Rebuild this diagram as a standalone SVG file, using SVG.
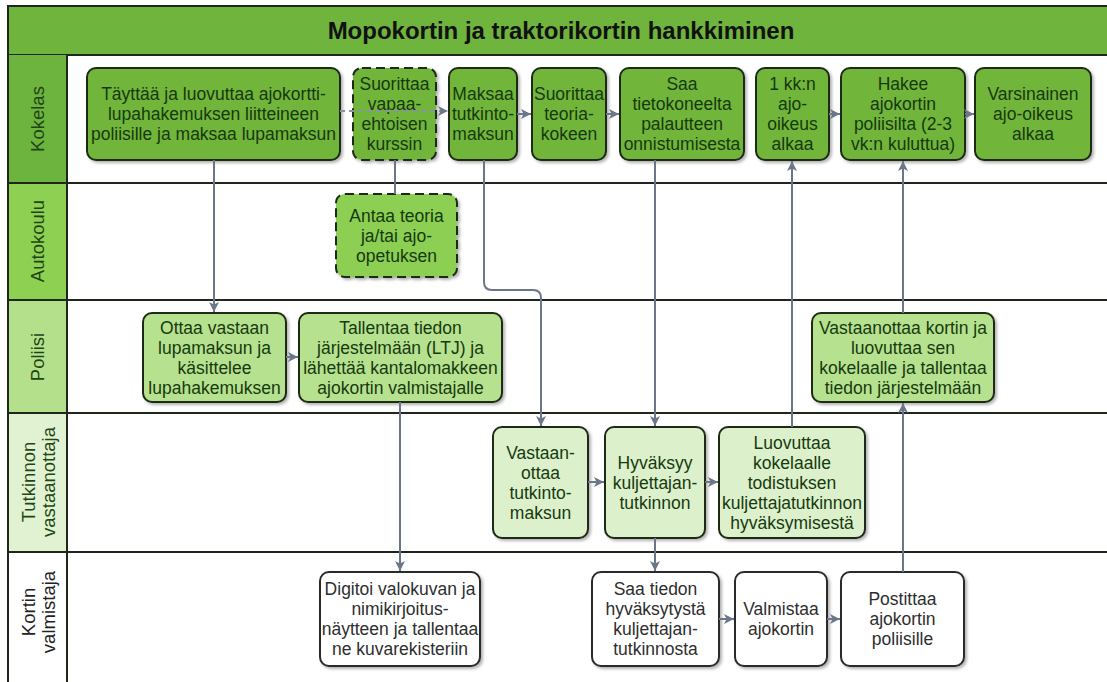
<svg xmlns="http://www.w3.org/2000/svg" width="1107" height="682" viewBox="0 0 1107 682">
  <defs>
    <marker id="arrow" markerUnits="userSpaceOnUse" markerWidth="11" markerHeight="11" refX="10" refY="5" orient="auto">
      <path d="M0,0 L10,5 L0,10 L2.5,5 z" fill="#6b7789"/>
    </marker>
    <filter id="shadow" x="-10%" y="-10%" width="125%" height="125%">
      <feDropShadow dx="2" dy="2" stdDeviation="1.5" flood-color="#000" flood-opacity="0.3"/>
    </filter>
    <style>
      .lane-line { stroke: #1f261c; stroke-width: 2; fill: none; }
      .title-bar { stroke: #1f261c; stroke-width: 2; fill: #6fb43c; }
      .lane-label { font-family: "Liberation Sans", Arial, sans-serif; font-size: 18.5px; text-anchor: middle; fill: #1e4514; }
      .node rect { stroke: #1d2a16; stroke-width: 2; filter: url(#shadow); }
      .node text { font-family: "Liberation Sans", Arial, sans-serif; font-size: 17.5px; text-anchor: middle; fill: #163a0e; }
      .k rect { fill: #72b53b; }
      .a rect { fill: #8ccf52; }
      .p rect { fill: #b6e18f; }
      .t rect { fill: #dcf0cc; }
      .v rect { fill: #ffffff; stroke: #2b2b2b; }
      .v text { fill: #2e2e2e; }
      .dash rect { stroke-dasharray: 9 5; }
      .conn { stroke: #6b7789; stroke-width: 2; fill: none; }
      .conn-dash { stroke: #8a93a3; stroke-width: 2; fill: none; stroke-dasharray: 5 4; }
    </style>
  </defs>

  <rect x="0" y="0" width="1107" height="682" fill="#ffffff"/>

  <!-- Swimlane frame -->
  <g id="lanes">
    <rect x="8" y="6" width="1102" height="49" class="title-bar"/>
    <text x="561" y="39" font-family="'Liberation Sans', Arial, sans-serif" font-size="24" font-weight="bold" text-anchor="middle" fill="#111">Mopokortin ja traktorikortin hankkiminen</text>

    <rect x="8" y="55" width="59" height="128" fill="#6db43f"/>
    <rect x="8" y="183" width="59" height="117" fill="#8dd052"/>
    <rect x="8" y="300" width="59" height="113" fill="#b4e08c"/>
    <rect x="8" y="413" width="59" height="139" fill="#e0f2d2"/>
    <rect x="8" y="552" width="59" height="132" fill="#ffffff"/>

    <line x1="8" y1="55" x2="8" y2="684" class="lane-line"/>
    <line x1="67" y1="55" x2="67" y2="684" class="lane-line"/>
    <line x1="8" y1="183" x2="1110" y2="183" class="lane-line"/>
    <line x1="8" y1="300" x2="1110" y2="300" class="lane-line"/>
    <line x1="8" y1="413" x2="1110" y2="413" class="lane-line"/>
    <line x1="8" y1="552" x2="1110" y2="552" class="lane-line"/>

    <text class="lane-label" transform="translate(44,119) rotate(-90)">Kokelas</text>
    <text class="lane-label" transform="translate(44,241) rotate(-90)">Autokoulu</text>
    <text class="lane-label" transform="translate(44,357) rotate(-90)">Poliisi</text>
    <text class="lane-label" transform="translate(37.5,482) rotate(-90)"><tspan x="0" y="-3">Tutkinnon</tspan><tspan x="0" y="17">vastaanottaja</tspan></text>
    <text class="lane-label" transform="translate(37.5,612) rotate(-90)" style="fill:#222"><tspan x="0" y="-3">Kortin</tspan><tspan x="0" y="17">valmistaja</tspan></text>
  </g>

  <!-- Kokelas -->
  <g id="n-tayttaa" class="node k">
    <rect x="87" y="68" width="253" height="92" rx="9"/>
    <text><tspan x="213.5" y="100">Täyttää ja luovuttaa ajokortti-</tspan><tspan x="213.5" y="120">lupahakemuksen liitteineen</tspan><tspan x="213.5" y="140">poliisille ja maksaa lupamaksun</tspan></text>
  </g>
  <g id="n-kurssi" class="node k dash">
    <rect x="353" y="68" width="83" height="92" rx="9"/>
    <text><tspan x="394.5" y="90">Suorittaa</tspan><tspan x="394.5" y="110">vapaa-</tspan><tspan x="394.5" y="130">ehtoisen</tspan><tspan x="394.5" y="150">kurssin</tspan></text>
  </g>
  <g id="n-maksaa" class="node k">
    <rect x="449" y="68" width="68" height="92" rx="9"/>
    <text><tspan x="483" y="100">Maksaa</tspan><tspan x="483" y="120">tutkinto-</tspan><tspan x="483" y="140">maksun</tspan></text>
  </g>
  <g id="n-teoria" class="node k">
    <rect x="532" y="68" width="74" height="92" rx="9"/>
    <text><tspan x="569" y="100">Suorittaa</tspan><tspan x="569" y="120">teoria-</tspan><tspan x="569" y="140">kokeen</tspan></text>
  </g>
  <g id="n-palaute" class="node k">
    <rect x="620" y="68" width="124" height="92" rx="9"/>
    <text><tspan x="682" y="90">Saa</tspan><tspan x="682" y="110">tietokoneelta</tspan><tspan x="682" y="130">palautteen</tspan><tspan x="682" y="150">onnistumisesta</tspan></text>
  </g>
  <g id="n-kk" class="node k">
    <rect x="756" y="68" width="73" height="92" rx="9"/>
    <text><tspan x="792.5" y="90">1 kk:n</tspan><tspan x="792.5" y="110">ajo-</tspan><tspan x="792.5" y="130">oikeus</tspan><tspan x="792.5" y="150">alkaa</tspan></text>
  </g>
  <g id="n-hakee" class="node k">
    <rect x="841" y="68" width="124" height="92" rx="9"/>
    <text><tspan x="903" y="90">Hakee</tspan><tspan x="903" y="110">ajokortin</tspan><tspan x="903" y="130">poliisilta (2-3</tspan><tspan x="903" y="150">vk:n kuluttua)</tspan></text>
  </g>
  <g id="n-varsinainen" class="node k">
    <rect x="975" y="68" width="116" height="92" rx="9"/>
    <text><tspan x="1033" y="100">Varsinainen</tspan><tspan x="1033" y="120">ajo-oikeus</tspan><tspan x="1033" y="140">alkaa</tspan></text>
  </g>

  <!-- Autokoulu -->
  <g id="n-opetus" class="node a dash">
    <rect x="336" y="194" width="121" height="83" rx="9"/>
    <text><tspan x="396.5" y="221.5">Antaa teoria</tspan><tspan x="396.5" y="241.5">ja/tai ajo-</tspan><tspan x="396.5" y="261.5">opetuksen</tspan></text>
  </g>

  <!-- Poliisi -->
  <g id="n-ottaa" class="node p">
    <rect x="143" y="313" width="143" height="89" rx="9"/>
    <text><tspan x="214.5" y="333.5">Ottaa vastaan</tspan><tspan x="214.5" y="353.5">lupamaksun ja</tspan><tspan x="214.5" y="373.5">käsittelee</tspan><tspan x="214.5" y="393.5">lupahakemuksen</tspan></text>
  </g>
  <g id="n-tallentaa" class="node p">
    <rect x="299" y="313" width="203" height="89" rx="9"/>
    <text><tspan x="400.5" y="333.5">Tallentaa tiedon</tspan><tspan x="400.5" y="353.5">järjestelmään (LTJ) ja</tspan><tspan x="400.5" y="373.5">lähettää kantalomakkeen</tspan><tspan x="400.5" y="393.5">ajokortin valmistajalle</tspan></text>
  </g>
  <g id="n-vastaanottaa-kortin" class="node p">
    <rect x="812" y="313" width="182" height="89" rx="9"/>
    <text><tspan x="903" y="333.5">Vastaanottaa kortin ja</tspan><tspan x="903" y="353.5">luovuttaa sen</tspan><tspan x="903" y="373.5">kokelaalle ja tallentaa</tspan><tspan x="903" y="393.5">tiedon järjestelmään</tspan></text>
  </g>

  <!-- Tutkinnon vastaanottaja -->
  <g id="n-tutkintomaksu" class="node t">
    <rect x="493" y="427" width="95" height="111" rx="9"/>
    <text><tspan x="540.5" y="458.5">Vastaan-</tspan><tspan x="540.5" y="478.5">ottaa</tspan><tspan x="540.5" y="498.5">tutkinto-</tspan><tspan x="540.5" y="518.5">maksun</tspan></text>
  </g>
  <g id="n-hyvaksyy" class="node t">
    <rect x="605" y="427" width="100" height="111" rx="9"/>
    <text><tspan x="655" y="468.5">Hyväksyy</tspan><tspan x="655" y="488.5">kuljettajan-</tspan><tspan x="655" y="508.5">tutkinnon</tspan></text>
  </g>
  <g id="n-luovuttaa" class="node t">
    <rect x="719" y="427" width="146" height="111" rx="9"/>
    <text><tspan x="792" y="448.5">Luovuttaa</tspan><tspan x="792" y="468.5">kokelaalle</tspan><tspan x="792" y="488.5">todistuksen</tspan><tspan x="792" y="508.5">kuljettajatutkinnon</tspan><tspan x="792" y="528.5">hyväksymisestä</tspan></text>
  </g>

  <!-- Kortin valmistaja -->
  <g id="n-digitoi" class="node v">
    <rect x="320" y="572" width="160" height="94" rx="9"/>
    <text><tspan x="400" y="595">Digitoi valokuvan ja</tspan><tspan x="400" y="615">nimikirjoitus-</tspan><tspan x="400" y="635">näytteen ja tallentaa</tspan><tspan x="400" y="655">ne kuvarekisteriin</tspan></text>
  </g>
  <g id="n-saa-tiedon" class="node v">
    <rect x="592" y="572" width="127" height="94" rx="9"/>
    <text><tspan x="655.5" y="595">Saa tiedon</tspan><tspan x="655.5" y="615">hyväksytystä</tspan><tspan x="655.5" y="635">kuljettajan-</tspan><tspan x="655.5" y="655">tutkinnosta</tspan></text>
  </g>
  <g id="n-valmistaa" class="node v">
    <rect x="735" y="572" width="92" height="94" rx="9"/>
    <text><tspan x="781" y="615">Valmistaa</tspan><tspan x="781" y="635">ajokortin</tspan></text>
  </g>
  <g id="n-postittaa" class="node v">
    <rect x="841" y="572" width="123" height="94" rx="9"/>
    <text><tspan x="902.5" y="605">Postittaa</tspan><tspan x="902.5" y="625">ajokortin</tspan><tspan x="902.5" y="645">poliisille</tspan></text>
  </g>

  <!-- Connectors -->
  <g id="connectors">
    <path class="conn-dash" d="M340,111 H448" marker-end="url(#arrow)"/>
    <path class="conn" d="M517,114 H531" marker-end="url(#arrow)"/>
    <path class="conn" d="M606,114 H619" marker-end="url(#arrow)"/>
    <path class="conn" d="M829,114 H840" marker-end="url(#arrow)"/>
    <path class="conn" d="M965,114 H974" marker-end="url(#arrow)"/>
    <path class="conn" d="M395,160 V194"/>
    <path class="conn" d="M214,160 V312" marker-end="url(#arrow)"/>
    <path class="conn" d="M484,160 V282 Q484,290 492,290 H533 Q541,290 541,298 V426" marker-end="url(#arrow)"/>
    <path class="conn" d="M655,160 V426" marker-end="url(#arrow)"/>
    <path class="conn" d="M792,427 V161" marker-end="url(#arrow)"/>
    <path class="conn" d="M903,313 V161" marker-end="url(#arrow)"/>
    <path class="conn" d="M286,357 H298" marker-end="url(#arrow)"/>
    <path class="conn" d="M400,402 V571" marker-end="url(#arrow)"/>
    <path class="conn" d="M588,482 H604" marker-end="url(#arrow)"/>
    <path class="conn" d="M705,482 H718" marker-end="url(#arrow)"/>
    <path class="conn" d="M655,538 V571" marker-end="url(#arrow)"/>
    <path class="conn" d="M719,619 H734" marker-end="url(#arrow)"/>
    <path class="conn" d="M827,619 H840" marker-end="url(#arrow)"/>
    <path class="conn" d="M903,572 V403" marker-end="url(#arrow)"/>
  </g>
</svg>
